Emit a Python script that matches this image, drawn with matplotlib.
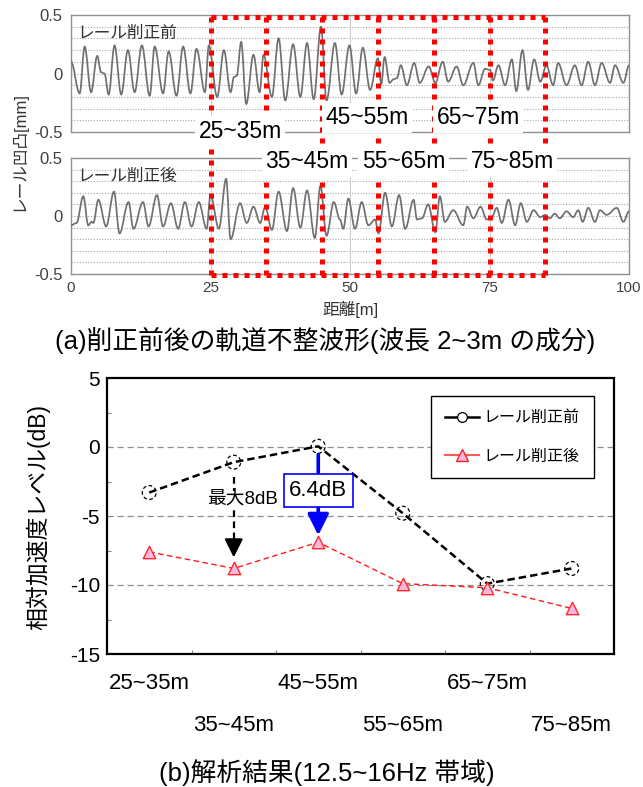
import matplotlib
matplotlib.use('Agg')
import matplotlib.pyplot as plt
from matplotlib.lines import Line2D
from matplotlib.path import Path
from matplotlib.patches import PathPatch
import matplotlib.transforms as mtransforms
import numpy as np

plt.rcParams['font.family'] = ['Liberation Sans', 'Noto Sans CJK JP', 'DejaVu Sans']
plt.rcParams['axes.unicode_minus'] = False

# ---------------- data ----------------
before_x = [0, 1.55, 2.45, 3.6, 4.7, 5.4, 6.0, 6.75, 7.8, 9.0, 10.2, 11.4, 12.7, 14.1, 15.0, 16.5, 17.5, 18.9,
            20.1, 21.4, 22.5, 24.0, 24.7, 26.2, 27.4, 28.6, 29.2, 29.7, 30.5, 31.4, 32.7, 33.8, 34.5, 36.0,
            37.2, 38.4, 39.8, 41.1, 42.3, 43.5, 44.8, 45.8, 47.3, 48.5, 49.9, 51.1, 52.3, 53.6, 55.0, 55.6,
            56.2, 57.1, 57.8, 58.4, 59.1, 60.2, 61.5, 62.5, 64.1, 65.3, 66.6, 67.6, 69.1, 70.3, 72.1, 73.0,
            74.2, 75.1, 75.6, 76.6, 77.8, 79.0, 79.8, 80.9, 81.9, 83.0, 84.1, 85.2, 86.4, 87.3, 88.8, 90.3,
            91.5, 92.7, 93.9, 95.1, 96.6, 97.5, 99.0, 100]
before_y = [0.10, -0.17, 0.23, -0.16, 0.15, 0.01, 0.0, -0.18, 0.24, -0.18, 0.20, -0.16, 0.24, -0.19, 0.23,
            -0.17, 0.19, -0.19, 0.23, -0.17, 0.21, -0.16, 0.24, -0.20, 0.20, -0.16, -0.03, -0.02, 0.27, -0.26,
            0.16, -0.16, 0.16, -0.20, 0.30, -0.23, 0.25, -0.20, 0.26, -0.22, 0.40, -0.23, 0.26, -0.18, 0.24,
            -0.17, 0.22, -0.14, 0.13, -0.09, 0.14, -0.08, -0.05, -0.04, 0.07, -0.10, 0.09, -0.08, 0.06, -0.08,
            0.10, -0.07, 0.06, -0.10, 0.09, -0.10, 0.04, 0.03, -0.06, 0.07, -0.10, 0.12, -0.15, 0.20, -0.14,
            0.12, -0.07, 0.07, -0.10, 0.09, -0.10, 0.07, -0.10, 0.10, -0.10, 0.09, -0.08, 0.07, -0.08, 0.07]

after_x = [0, 1.0, 2.2, 3.1, 3.7, 4.0, 4.9, 6.3, 7.7, 8.7, 10.3, 11.2, 12.9, 13.9, 15.4, 16.5, 17.9, 19.2,
           20.4, 21.6, 22.9, 24.3, 25.0, 26.5, 27.8, 28.6, 30.3, 31.5, 32.7, 33.9, 34.8, 36.0, 37.2, 38.7,
           39.8, 41.1, 42.3, 43.7, 44.7, 45.8, 47.1, 48.2, 48.8, 49.7, 50.9, 52.1, 53.3, 54.5, 55.1, 56.3,
           57.5, 58.8, 59.9, 61.4, 62.0, 62.9, 64.0, 65.3, 66.1, 67.0, 68.5, 70.3, 71.0, 72.1, 73.4, 74.5,
           75.4, 76.3, 77.2, 78.4, 79.6, 80.6, 81.7, 82.9, 84.1, 85.0, 85.8, 86.7, 87.6, 88.8, 90.0, 90.9,
           91.7, 92.7, 93.9, 94.8, 96.0, 97.8, 99.0, 100]
after_y = [-0.08, -0.06, 0.17, -0.08, -0.05, -0.06, 0.14, -0.09, 0.21, -0.15, 0.12, -0.11, 0.12, -0.09, 0.18,
           -0.09, 0.11, -0.11, 0.12, -0.09, 0.12, -0.11, 0.18, -0.11, 0.32, -0.20, 0.11, -0.06, 0.08, -0.06,
           0.08, -0.12, 0.21, -0.13, 0.24, -0.10, 0.22, -0.19, 0.26, -0.17, 0.12, -0.03, -0.11, 0.15, -0.11,
           0.12, -0.08, -0.03, -0.15, 0.20, -0.09, 0.18, -0.11, 0.14, -0.03, -0.02, 0.10, -0.14, 0.17, -0.05,
           0.05, -0.08, 0.08, -0.02, 0.08, -0.03, -0.01, 0.07, -0.06, 0.14, -0.08, 0.11, -0.05, 0.05, -0.01,
           0.01, -0.02, 0.02, -0.02, 0.04, -0.01, 0.05, -0.05, 0.07, -0.05, 0.05, 0.01, 0.07, -0.05, 0.04]

section_edges = [25, 35, 45, 55, 65, 75, 85]
sections = ['25~35m', '35~45m', '45~55m', '55~65m', '65~75m', '75~85m']
level_before = [-3.3, -1.1, 0.05, -4.8, -9.9, -8.8]
level_after = [-7.6, -8.8, -6.9, -9.9, -10.2, -11.7]

wave_yticks = [-0.5, 0, 0.5]
wave_yticklabels = ['-0.5', '0', '0.5']
wave_xticks = [0, 25, 50, 75, 100]
level_yticks = [-15, -10, -5, 0, 5]

# ---------------- figure ----------------
W, H = 643, 787
fig = plt.figure(figsize=(W / 100, H / 100), dpi=100)


def fx(px):
    return px / W


def fy(py):
    return 1 - py / H


def smooth_trace(ax, xs, ys, **kw):
    """Draw the trace through the read extrema with flat tangents (rounded peaks)."""
    verts = [(xs[0], ys[0])]
    codes = [Path.MOVETO]
    for x0, y0, x1, y1 in zip(xs[:-1], ys[:-1], xs[1:], ys[1:]):
        d = (x1 - x0) * 0.36
        verts += [(x0 + d, y0), (x1 - d, y1), (x1, y1)]
        codes += [Path.CURVE4] * 3
    ax.add_patch(PathPatch(Path(verts, codes), fill=False, transform=ax.transData, **kw))


ax1 = fig.add_axes([fx(71), fy(132), 558 / W, 117 / H])
ax2 = fig.add_axes([fx(71), fy(274), 558 / W, 116 / H])

for ax, xs, ys, lab in [(ax1, before_x, before_y, 'レール削正前'), (ax2, after_x, after_y, 'レール削正後')]:
    smooth_trace(ax, xs, ys, edgecolor='#707070', lw=1.25, zorder=3)
    ax.set_xlim(0, 100)
    ax.set_ylim(-0.5, 0.5)
    for g in np.arange(-4, 5) / 10:
        ax.axhline(g, color='#a8a8a8', lw=0.8, ls=(0, (1, 1.5)), zorder=1)
    for v in [25, 50, 75]:
        ax.axvline(v, color='#cfcfcf', lw=0.8, zorder=1)
    for sp in ax.spines.values():
        sp.set_color('#909090')
        sp.set_linewidth(1.0)
    ax.set_yticks(wave_yticks)
    ax.set_yticklabels(wave_yticklabels)
    ax.set_xticks(wave_xticks)
    ax.tick_params(length=0, labelsize=12, colors='#404040', pad=6)
    ax.tick_params(axis='x', labelsize=11, pad=5)
    ax.text(0.012, 0.845, lab, transform=ax.transAxes, fontsize=12, color='#303030', va='center', ha='left')

ax1.tick_params(labelbottom=False)

fig.text(fx(18), fy(151), 'レール凹凸[mm]', rotation=90, fontsize=12, color='#333333', ha='center', va='center')
fig.text(fx(350), fy(310), '距離[m]', fontsize=12, color='#333333', ha='center', va='center')

# red dotted section boxes
trans = mtransforms.blended_transform_factory(ax1.transData, fig.transFigure)
ytop, ybot = fy(17), fy(274.5)
red_kw = dict(color='#ff0000', lw=3.6, ls=(0, (1, 1.2)), dash_capstyle='butt', transform=trans,
              zorder=10, clip_on=False)
for e in section_edges:
    fig.add_artist(Line2D([e, e], [ytop, ybot], **red_kw))
fig.add_artist(Line2D([section_edges[0], section_edges[-1]], [ytop, ytop], **red_kw))
fig.add_artist(Line2D([section_edges[0], section_edges[-1]], [ybot, ybot], **red_kw))

label_pos = [(30.3, 131), (42.3, 162), (53.0, 118), (59.6, 162), (73.0, 118), (79.1, 162)]
for lab, (lx, ly) in zip(sections, label_pos):
    fig.text(lx, fy(ly), lab, transform=trans, fontsize=16.5, ha='center', va='center', zorder=11,
             bbox=dict(boxstyle='square,pad=0.15', fc='white', ec='none'))

fig.text(fx(325), fy(340), '(a)削正前後の軌道不整波形(波長 2~3m の成分)', fontsize=18.5,
         ha='center', va='center')

# ---------------- level chart ----------------
ax3 = fig.add_axes([fx(107), fy(654), 507 / W, 276 / H])
xs = np.arange(1, len(sections) + 1)
ax3.set_xlim(0.5, len(sections) + 0.5)
ax3.set_ylim(-15, 5)
for g in [0, -5, -10]:
    ax3.axhline(g, color='#8f8f8f', lw=0.9, ls=(0, (5, 3)), zorder=1)

ax3.plot(xs, level_before, color='black', lw=1.8, ls=(0, (3, 1.6)), zorder=3)
ax3.scatter(xs, level_before, s=100, facecolors='none', edgecolors='black', linewidths=0.9,
            linestyles=(0, (3, 2)), zorder=4)
ax3.plot(xs, level_after, color='#ff1a1a', lw=1.0, ls=(0, (4, 2.5)), zorder=3)
ax3.scatter(xs, level_after, s=80, marker='^', facecolors='#f7b6e3', edgecolors='#ff2a2a', linewidths=1.0,
            zorder=4)

for sp in ax3.spines.values():
    sp.set_linestyle((0, (1.5, 1)))
    sp.set_linewidth(1.6)
    sp.set_color('black')

ax3.set_yticks(level_yticks)
ax3.set_yticklabels([str(v) for v in level_yticks])
ax3.tick_params(axis='y', length=0, labelsize=15, pad=5)
ax3.set_xticks(xs)
ax3.set_xticklabels(sections)
ax3.tick_params(axis='x', which='major', length=0, labelsize=16)
ax3.set_xticks(xs[:-1] + 0.5, minor=True)
ax3.set_yticks([-12.5, -7.5, -2.5, 2.5], minor=True)
ax3.tick_params(which='minor', direction='in', length=3, width=0.8, color='#888888')
for i, t in enumerate(ax3.xaxis.get_major_ticks()):
    t.set_pad(14 if i % 2 == 0 else 44)

# annotations
ax3.plot([2, 2], [level_before[1] - 1.1, level_after[1] + 1.6], color='black', lw=1.6, ls=(0, (3, 2)),
         zorder=5)
ax3.annotate('', xy=(2, level_after[1] + 0.8), xytext=(2, level_after[1] + 1.8),
             arrowprops=dict(arrowstyle='-|>,head_width=0.35,head_length=0.7', color='black', lw=1.6,
                             shrinkA=0, shrinkB=0, mutation_scale=16), zorder=5)
ax3.text(2.1, -3.85, '最大8dB', fontsize=13.5, ha='center', va='center', zorder=6,
         bbox=dict(boxstyle='square,pad=0.05', fc='white', ec='none'))

ax3.annotate('', xy=(3, level_after[2] + 0.5), xytext=(3, level_before[2] - 0.6),
             arrowprops=dict(arrowstyle='-|>,head_width=0.4,head_length=0.8', color='#0000ff', lw=2.6,
                             shrinkA=0, shrinkB=0, mutation_scale=16), zorder=5)
ax3.text(3, -3.15, '6.4dB', fontsize=16, ha='center', va='center', zorder=7,
         bbox=dict(boxstyle='square,pad=0.25', fc='white', ec='#0000ff', lw=1.2))

h1 = Line2D([], [], color='black', lw=1.8, marker='o', ms=7, mfc='white', mec='black', mew=0.9)
h2 = Line2D([], [], color='#ff5a5a', lw=1.5, marker='^', ms=8, mfc='#f7b6e3', mec='#ff2020', mew=1.0)
leg = ax3.legend([h1, h2], ['レール削正前', 'レール削正後'], loc='upper left',
                 bbox_to_anchor=(fx(431), fy(396)), bbox_transform=fig.transFigure, fontsize=11.5,
                 frameon=True, fancybox=False, edgecolor='black', framealpha=1, handlelength=2.1,
                 handletextpad=0.3, labelspacing=1.45, borderpad=0.9, borderaxespad=0)
leg.get_frame().set_linewidth(1.0)

fig.text(fx(38), fy(517), '相対加速度レベル(dB)', rotation=90, fontsize=16.5, ha='center', va='center')
fig.text(fx(327), fy(773), '(b)解析結果(12.5~16Hz 帯域)', fontsize=18.5, ha='center', va='center')

fig.savefig('out.png', dpi=100)
